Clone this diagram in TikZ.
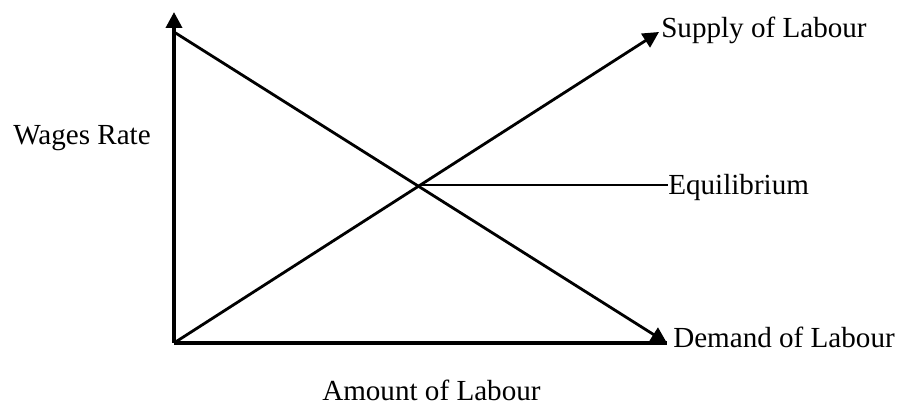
\documentclass[tikz,border=0pt]{standalone}
\usepackage{fontspec}
\setmainfont{Liberation Serif}
\usepackage{tikz}
\usetikzlibrary{arrows.meta, positioning, calc}

\tikzset{
    axisline/.style={line width=2.6pt, -{Triangle[length=0.4cm, width=0.4cm]}},
    curveline/.style={line width=2pt, -{Triangle[length=0.4cm, width=0.4cm]}},
    lbl/.style={inner sep=0pt, font=\fontsize{20.7}{24}\selectfont},
}

\begin{document}
\begin{tikzpicture}[x=0.025cm, y=-0.025cm]
    \useasboundingbox (0,0) rectangle (910,406);

    % 坐标点
    \coordinate (O) at (174,343);
    \coordinate (ytop) at (174,12);
    \coordinate (xend) at (667,343);
    \coordinate (dstart) at (174,32);
    \coordinate (stip) at (659,32);
    \coordinate (eq) at (422,185);

    % 标签
    \node[lbl, anchor=base west] (wages) at (13,145) {Wages Rate};
    \node[lbl, anchor=base west] (amount) at (322,401) {Amount of Labour};
    \node[lbl, anchor=base west] (supply) at (661,38) {Supply of Labour};
    \node[lbl, anchor=base west] (demand) at (673,348) {Demand of Labour};
    \node[lbl, anchor=base west] (equil) at (668,195) {Equilibrium};

    % 坐标轴
    \draw[axisline] (O) -- (ytop);
    \draw[line width=2.6pt] (O) -- (xend);

    % 需求曲线与供给曲线
    \draw[curveline] (dstart) -- (xend);
    \draw[curveline] (O) -- (stip);

    % 均衡点
    \draw[line width=2pt] (eq) -- (eq -| equil.west);
\end{tikzpicture}
\end{document}
